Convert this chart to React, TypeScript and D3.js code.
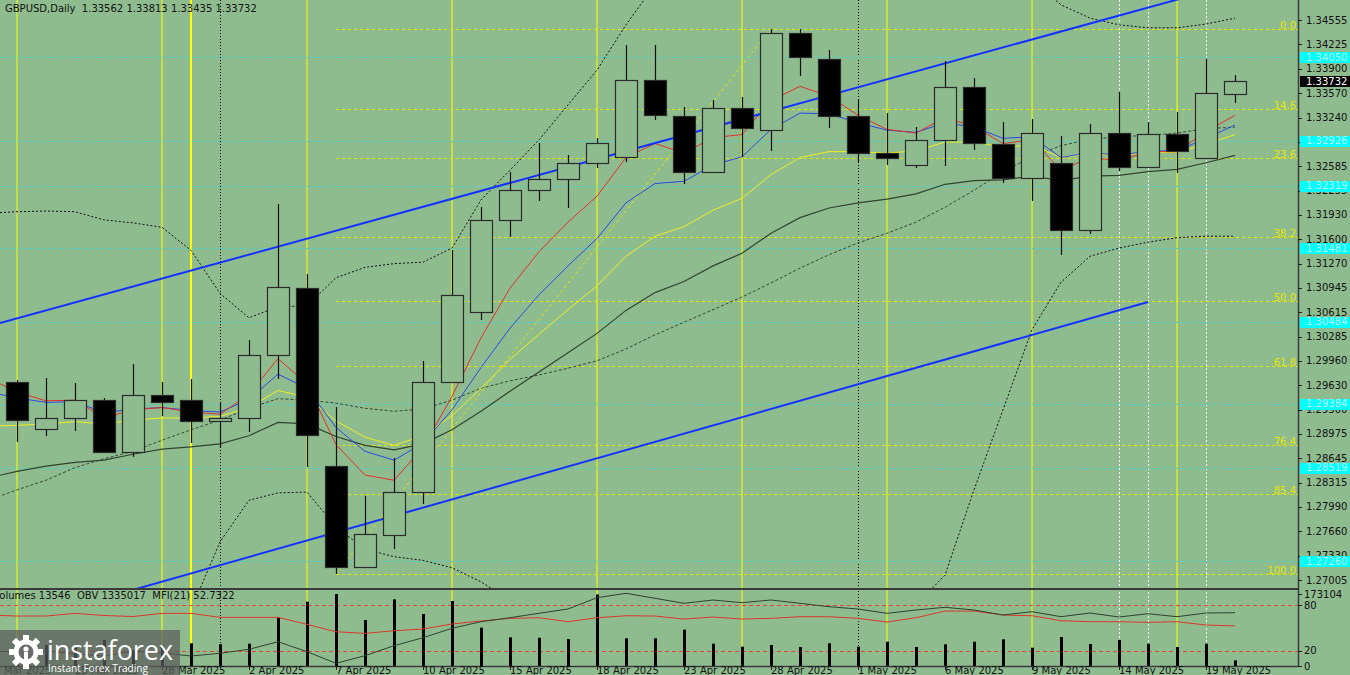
import React from 'react';
import * as d3 from 'd3';

// ---------- DATA ----------
const dates = [
  '2025-03-20','2025-03-21','2025-03-24','2025-03-25','2025-03-26','2025-03-27','2025-03-28','2025-03-31',
  '2025-04-01','2025-04-02','2025-04-03','2025-04-04','2025-04-07','2025-04-08','2025-04-09','2025-04-10',
  '2025-04-11','2025-04-14','2025-04-15','2025-04-16','2025-04-17','2025-04-18','2025-04-21','2025-04-22',
  '2025-04-23','2025-04-24','2025-04-25','2025-04-28','2025-04-29','2025-04-30','2025-05-01','2025-05-02',
  '2025-05-05','2025-05-06','2025-05-07','2025-05-08','2025-05-09','2025-05-12','2025-05-13','2025-05-14',
  '2025-05-15','2025-05-16','2025-05-19','2025-05-20'
];
const candleDates = dates.slice(1);

const opens = [1.29674,1.29041,1.29189,1.29432,1.28731,1.29499,1.29432,1.29149,1.29189,1.30039,1.30942,1.28542,1.27180,1.27612,1.28191,1.29674,1.30618,1.31859,1.32263,1.32411,1.32627,1.32708,1.33746,1.33261,1.32506,1.33369,1.33072,1.34380,1.34029,1.33261,1.32762,1.32600,1.32937,1.33652,1.32883,1.32425,1.32627,1.31724,1.33032,1.32573,1.33018,1.32694,1.33562];
const highs = [1.29701,1.29728,1.29661,1.29459,1.29917,1.29674,1.29715,1.29391,1.30241,1.32074,1.31131,1.29337,1.28138,1.28650,1.29958,1.31454,1.32034,1.32506,1.32897,1.32735,1.32964,1.34218,1.34218,1.33382,1.33476,1.33517,1.34434,1.34434,1.34151,1.33490,1.33301,1.33112,1.34002,1.33773,1.33180,1.33220,1.32991,1.33153,1.33584,1.33180,1.33315,1.34029,1.33813];
const lows = [1.28866,1.28946,1.29014,1.28717,1.28663,1.29216,1.28852,1.28785,1.29000,1.29715,1.28529,1.27086,1.27170,1.27423,1.28030,1.29661,1.30510,1.31629,1.32115,1.32020,1.32560,1.32641,1.33207,1.32344,1.32492,1.32708,1.32789,1.33800,1.33099,1.32641,1.32600,1.32560,1.32587,1.32802,1.32357,1.32115,1.31387,1.31670,1.32519,1.32560,1.32492,1.32680,1.33435];
const closes = [1.29162,1.29189,1.29432,1.28731,1.29499,1.29405,1.29149,1.29189,1.30039,1.30955,1.28960,1.27180,1.27625,1.28191,1.29674,1.30847,1.31859,1.32263,1.32411,1.32627,1.32897,1.33746,1.33274,1.32506,1.33369,1.33099,1.34380,1.34056,1.33261,1.32762,1.32694,1.32937,1.33652,1.32897,1.32425,1.33032,1.31724,1.33032,1.32573,1.33018,1.32789,1.33571,1.33732];

// moving averages (aligned with dates)
const maRed = [1.2973,1.2954,1.2942,1.2943,1.2919,1.2930,1.2933,1.2927,1.2924,1.2951,1.2999,1.2965,1.2883,1.2842,1.2835,1.2879,1.2948,1.3027,1.3094,1.3143,1.3183,1.3218,1.3270,1.3289,1.3276,1.3297,1.3301,1.3347,1.3366,1.3353,1.3327,1.3308,1.3303,1.3324,1.3312,1.3289,1.3294,1.3253,1.3270,1.3266,1.3278,1.3278,1.3305,1.3327];
const maBlue = [1.2954,1.2946,1.2940,1.2941,1.2926,1.2931,1.2933,1.2929,1.2927,1.2944,1.2978,1.2959,1.2906,1.2874,1.2862,1.2885,1.2930,1.2987,1.3040,1.3085,1.3124,1.3161,1.3209,1.3235,1.3238,1.3260,1.3271,1.3308,1.3330,1.3329,1.3317,1.3307,1.3304,1.3317,1.3311,1.3296,1.3298,1.3270,1.3277,1.3273,1.3279,1.3279,1.3296,1.3314];
const maYellow = [1.2908,1.2909,1.2911,1.2914,1.2911,1.2916,1.2919,1.2919,1.2921,1.2933,1.2956,1.2947,1.2915,1.2893,1.2882,1.2895,1.2922,1.2959,1.2998,1.3032,1.3065,1.3097,1.3137,1.3164,1.3177,1.3199,1.3215,1.3247,1.3270,1.3278,1.3278,1.3276,1.3279,1.3291,1.3291,1.3284,1.3287,1.3270,1.3275,1.3273,1.3277,1.3277,1.3288,1.3301];
const maDark = [1.2838,1.2847,1.2854,1.2859,1.2862,1.2870,1.2877,1.2880,1.2884,1.2895,1.2913,1.2911,1.2894,1.2882,1.2876,1.2884,1.2903,1.2928,1.2955,1.2981,1.3007,1.3033,1.3064,1.3088,1.3103,1.3124,1.3141,1.3168,1.3189,1.3202,1.3209,1.3214,1.3221,1.3234,1.3239,1.3240,1.3245,1.3239,1.3245,1.3246,1.3251,1.3254,1.3263,1.3273];
const bbMid = [1.2808,1.2822,1.2835,1.2852,1.2864,1.2874,1.2889,1.2903,1.2916,1.2932,1.2945,1.2943,1.2939,1.2932,1.2928,1.2931,1.2943,1.2959,1.2969,1.2977,1.2986,1.2996,1.3012,1.3031,1.3048,1.3065,1.3082,1.3101,1.3121,1.3139,1.3155,1.3168,1.3183,1.3203,1.3226,1.3251,1.3271,1.3286,1.3295,1.3298,1.3300,1.3303,1.3309,1.3311];
const bbUpper = [1.3195,1.3197,1.3198,1.3197,1.3186,1.3182,1.3176,1.3145,1.3087,1.3054,1.3069,1.3070,1.3108,1.3122,1.3127,1.3129,1.3148,1.3213,1.3253,1.3294,1.3341,1.3388,1.3449,1.3503,1.3536,1.3563,1.3590,1.3631,1.3658,1.3671,1.3678,1.3671,1.3658,1.3631,1.3590,1.3550,1.3509,1.3476,1.3458,1.3449,1.3445,1.3445,1.3450,1.3458];
const bbLower = [1.2431,1.2451,1.2478,1.2512,1.2539,1.2566,1.2606,1.2660,1.2752,1.2808,1.2818,1.2819,1.2772,1.2742,1.2732,1.2727,1.2717,1.2698,1.2674,1.2647,1.2620,1.2593,1.2566,1.2552,1.2545,1.2545,1.2552,1.2559,1.2572,1.2593,1.2613,1.2640,1.2667,1.2707,1.2822,1.2930,1.3038,1.3102,1.3137,1.3148,1.3156,1.3162,1.3164,1.3164];

// indicator window
const volumes = [50500,50500,43300,62500,38500,50500,54600,52200,53600,117100,154600,173104,110600,160300,125000,156300,92100,69000,68000,64900,172000,66600,66600,87300,53600,46400,50500,45700,54600,46400,58400,45700,52200,58400,64200,44000,69700,52900,62500,53600,45700,53600,13546];
const obv = [760500,745500,760500,715500,685500,760500,730500,685500,726000,786000,900000,750000,576000,690000,840000,960000,1101000,1200000,1260000,1326000,1390500,1560000,1626000,1551000,1476000,1525500,1485000,1525500,1476000,1425000,1390500,1326000,1375500,1416000,1375500,1300500,1350000,1275000,1330500,1270500,1320000,1275000,1330500,1335017];
const mfi = [66.9,65.6,65.6,69.1,66.3,65.0,69.1,69.1,63.9,63.9,63.9,54.8,45.1,43.0,46.4,48.7,55.2,59.1,62.6,63.4,58.2,63.4,66.0,65.6,61.7,64.3,61.7,62.6,64.7,64.7,62.6,57.8,63.4,72.1,72.1,66.9,66.0,59.5,58.2,58.2,57.4,58.2,53.9,52.73];

// horizontal levels and labels
const cyanLevels = [1.34050,1.32926,1.32319,1.31481,1.30484,1.29384,1.28519,1.27260];
const fibLevels = [0,14.6,23.6,38.2,50,61.8,76.4,85.4,100];
const fibHigh = 1.34434;
const fibLow = 1.27086;
const fibStart = '2025-04-07';
const fibEnd = '2025-04-28';
const priceTicks = [1.34555,1.34225,1.339,1.3357,1.3324,1.3291,1.32585,1.32255,1.3193,1.316,1.3127,1.30945,1.30615,1.30285,1.2996,1.2963,1.293,1.28975,1.28645,1.28315,1.2799,1.2766,1.2733,1.27005];
const lastPrice = 1.33732;
const panelTicks = [{ v: 173104, t: '173104', k: 'vol' }, { v: 80, t: '80', k: 'mfi' }, { v: 20, t: '20', k: 'mfi' }, { v: 0, t: '0', k: 'mfi' }];
const mfiLevels = [80, 20];

// channel (two anchor points each)
const channelUpper = [{ d: '2025-03-20', p: 1.30425 }, { d: '2025-05-15', p: 1.34722 }];
const channelLower = [{ d: '2025-04-07', p: 1.27648 }, { d: '2025-05-15', p: 1.30753 }];

// vertical markers
const yellowLines = ['2025-03-21','2025-03-28','2025-04-04','2025-04-11','2025-04-18','2025-04-25','2025-05-02','2025-05-09','2025-05-16'];
const yellowThick = ['2025-03-31'];
const blackDotted = ['2025-04-01','2025-05-01'];
const whiteDotted = ['2025-05-14','2025-05-15','2025-05-19'];

const dateLabels = [
  { d: '2025-03-20', t: '20 Mar 2025' }, { d: '2025-03-25', t: '25 Mar 2025' }, { d: '2025-03-28', t: '28 Mar 2025' },
  { d: '2025-04-02', t: '2 Apr 2025' }, { d: '2025-04-07', t: '7 Apr 2025' }, { d: '2025-04-10', t: '10 Apr 2025' },
  { d: '2025-04-15', t: '15 Apr 2025' }, { d: '2025-04-18', t: '18 Apr 2025' }, { d: '2025-04-23', t: '23 Apr 2025' },
  { d: '2025-04-28', t: '28 Apr 2025' }, { d: '2025-05-01', t: '1 May 2025' }, { d: '2025-05-06', t: '6 May 2025' },
  { d: '2025-05-09', t: '9 May 2025' }, { d: '2025-05-14', t: '14 May 2025' }, { d: '2025-05-19', t: '19 May 2025' }
];

const titleText = 'GBPUSD,Daily  1.33562 1.33813 1.33435 1.33732';
const panelText = 'Volumes 13546  OBV 1335017  MFI(21) 52.7322';

// ---------- CHART ----------
const W = 1350, H = 675;
const PR = 1298;          // right edge of plot
const MAIN_B = 588;       // bottom of main window
const P_T = 590, P_B = 666;
const BG = '#8fbc8f';
const FONT = 'DejaVu Sans';

export default function App() {
  const x = d3.scalePoint<string>().domain(dates).range([-12, 1235]);
  const y = d3.scaleLinear().domain([1.27005, 1.34555]).range([580, 20]);
  const yVol = d3.scaleLinear().domain([0, 173104]).range([P_B, 594]);
  const yObv = d3.scaleLinear().domain([535517, 1675517]).range([P_B, P_T]);
  const yMfi = d3.scaleLinear().domain([0, 100]).range([666.33, 589.67]);

  const mk = (vals: number[], ys: (v: number) => number) =>
    d3.line<number>().x((_, i) => x(dates[i]) as number).y(v => ys(v))(vals) || '';

  const trend = (pts: { d: string; p: number }[], x0: number, x1: number) => {
    const xa = x(pts[0].d) as number, ya = y(pts[0].p);
    const xb = x(pts[1].d) as number, yb = y(pts[1].p);
    const m = (yb - ya) / (xb - xa);
    return { x1: x0, y1: ya + m * (x0 - xa), x2: x1, y2: ya + m * (x1 - xa) };
  };
  const up = trend(channelUpper, 0, PR);
  const lo = trend(channelLower, 0, x(channelLower[1].d) as number);

  const fibPrice = (l: number) => fibHigh - (fibHigh - fibLow) * l / 100;
  const fx0 = x(fibStart) as number;

  const half = 11;

  return (
    <svg width={W} height={H} style={{ position: 'fixed', left: 0, top: 0, display: 'block' }}
      fontFamily={FONT}>
      <defs>
        <clipPath id="mainClip"><rect x={0} y={0} width={PR} height={MAIN_B} /></clipPath>
        <clipPath id="panelClip"><rect x={0} y={P_T} width={PR} height={P_B - P_T} /></clipPath>
      </defs>
      <rect x={0} y={0} width={W} height={H} fill={BG} />

      {/* vertical markers */}
      <g>
        {yellowLines.map(d => (
          <line key={'y' + d} x1={x(d)} x2={x(d)} y1={0} y2={P_B} stroke="#ffff00" strokeWidth={1} />
        ))}
        {yellowThick.map(d => (
          <line key={'yt' + d} x1={x(d)} x2={x(d)} y1={0} y2={P_B} stroke="#ffff00" strokeWidth={2} />
        ))}
        {blackDotted.map(d => (
          <line key={'b' + d} x1={(x(d) as number) + 0.5} x2={(x(d) as number) + 0.5} y1={0} y2={P_B} stroke="#000" strokeWidth={1} strokeDasharray="1,2" />
        ))}
        {whiteDotted.map(d => (
          <line key={'w' + d} x1={(x(d) as number) + 0.5} x2={(x(d) as number) + 0.5} y1={0} y2={P_B} stroke="#fff" strokeWidth={1} strokeDasharray="2,2" />
        ))}
      </g>

      <g clipPath="url(#mainClip)">
        {/* cyan levels */}
        {cyanLevels.map(p => (
          <line key={'c' + p} x1={0} x2={PR} y1={Math.round(y(p)) + 0.5} y2={Math.round(y(p)) + 0.5}
            stroke="#46d2d2" strokeWidth={1} strokeDasharray="3,3" />
        ))}
        {/* fib levels */}
        {fibLevels.map(l => (
          <line key={'f' + l} x1={fx0} x2={PR} y1={Math.round(y(fibPrice(l))) + 0.5} y2={Math.round(y(fibPrice(l))) + 0.5}
            stroke="#e6e600" strokeWidth={1} strokeDasharray="3,3" />
        ))}
        <line x1={fx0} y1={y(fibLow)} x2={x(fibEnd)} y2={y(fibHigh)} stroke="#e6e600" strokeWidth={1} strokeDasharray="3,3" />

        {/* bands and averages */}
        <path d={mk(bbUpper, y)} fill="none" stroke="#111" strokeWidth={1} strokeDasharray="2,2" />
        <path d={mk(bbLower, y)} fill="none" stroke="#111" strokeWidth={1} strokeDasharray="2,2" />
        <path d={mk(bbMid, y)} fill="none" stroke="#344a34" strokeWidth={1} strokeDasharray="3,2" />
        <path d={mk(maDark, y)} fill="none" stroke="#2f452f" strokeWidth={1.2} />
        <path d={mk(maYellow, y)} fill="none" stroke="#eeee22" strokeWidth={1} />
        <path d={mk(maBlue, y)} fill="none" stroke="#2a4ae6" strokeWidth={1} />
        <path d={mk(maRed, y)} fill="none" stroke="#e2302a" strokeWidth={1} />

        {/* channel */}
        <line {...up} stroke="#1432ff" strokeWidth={2} />
        <line {...lo} stroke="#1432ff" strokeWidth={2} />

        {/* candles */}
        {candleDates.map((d, i) => {
          const cx = Math.round(x(d) as number);
          const o = opens[i], c = closes[i];
          const top = Math.round(y(Math.max(o, c)));
          const bot = Math.round(y(Math.min(o, c)));
          const bull = c >= o;
          return (
            <g key={d}>
              <line x1={cx + 0.5} x2={cx + 0.5} y1={y(highs[i])} y2={y(lows[i])} stroke="#111" strokeWidth={1.2} />
              <rect x={cx - half + 0.5} y={top + 0.5} width={half * 2} height={Math.max(bot - top, 1)}
                fill={bull ? BG : '#000'} stroke="#2b2b2b" strokeWidth={1.2} />
            </g>
          );
        })}

        {/* fib labels */}
        {fibLevels.map(l => (
          <text key={'fl' + l} x={1296} y={Math.round(y(fibPrice(l)))} textAnchor="end" fontSize={10} fill="#e6e600">
            {l.toFixed(1)}
          </text>
        ))}
      </g>

      {/* indicator panel */}
      <g clipPath="url(#panelClip)">
        {mfiLevels.map(v => (
          <line key={'m' + v} x1={0} x2={PR} y1={Math.round(yMfi(v)) + 0.5} y2={Math.round(yMfi(v)) + 0.5}
            stroke="#e04a3a" strokeWidth={1} strokeDasharray="4,3" />
        ))}
        {candleDates.map((d, i) => (
          <line key={'v' + d} x1={(x(d) as number) + 0.5} x2={(x(d) as number) + 0.5} y1={P_B} y2={yVol(volumes[i])}
            stroke="#000" strokeWidth={3} />
        ))}
        <path d={mk(mfi, yMfi)} fill="none" stroke="#d8382c" strokeWidth={1} />
        <path d={mk(obv, yObv)} fill="none" stroke="#2f432f" strokeWidth={1} />
      </g>

      {/* frames */}
      <line x1={0} x2={PR} y1={589} y2={589} stroke="#3a3a3a" strokeWidth={2} />
      <line x1={0} x2={PR} y1={P_B + 0.5} y2={P_B + 0.5} stroke="#3a3a3a" strokeWidth={1.5} />
      <line x1={PR + 0.5} x2={PR + 0.5} y1={0} y2={P_B + 1} stroke="#3a3a3a" strokeWidth={1.5} />

      {/* price axis */}
      {priceTicks.map(p => (
        <g key={'t' + p}>
          <line x1={PR} x2={PR + 4} y1={Math.round(y(p)) + 0.5} y2={Math.round(y(p)) + 0.5} stroke="#222" />
          <text x={1306} y={y(p) + 3.5} fontSize={10} fill="#111">{p.toFixed(5)}</text>
        </g>
      ))}
      {cyanLevels.map(p => (
        <g key={'cb' + p}>
          <rect x={1300} y={Math.round(y(p)) - 5} width={50} height={11} fill="#00ffff" />
          <text x={1306} y={y(p) + 3.5} fontSize={10} fill="#b8f4f4">{p.toFixed(5)}</text>
        </g>
      ))}
      <rect x={1300} y={Math.round(y(lastPrice)) - 5} width={50} height={11} fill="#000" />
      <text x={1306} y={y(lastPrice) + 3.5} fontSize={10} fill="#fff">{lastPrice.toFixed(5)}</text>

      {/* panel axis */}
      {panelTicks.map(t => {
        const yy = t.k === 'vol' ? yVol(t.v) : yMfi(t.v);
        return (
          <g key={'pt' + t.t}>
            <line x1={PR} x2={PR + 4} y1={Math.round(yy) + 0.5} y2={Math.round(yy) + 0.5} stroke="#222" />
            <text x={1304} y={yy + 3.5} fontSize={10} fill="#111">{t.t}</text>
          </g>
        );
      })}

      {/* titles */}
      <text x={5} y={12} fontSize={10} fill="#111" style={{ whiteSpace: 'pre' }}>{titleText}</text>
      <text x={-6.8} y={598.5} fontSize={10} fill="#111" style={{ whiteSpace: 'pre' }}>{panelText}</text>

      {/* date axis */}
      {dateLabels.map(l => (
        <g key={'dl' + l.d}>
          <line x1={(x(l.d) as number) + 0.5} x2={(x(l.d) as number) + 0.5} y1={P_B} y2={P_B + 4} stroke="#222" />
          <text x={x(l.d)} y={674} fontSize={10} fill="#111">{l.t}</text>
        </g>
      ))}

      {/* watermark */}
      <g>
        <rect x={0} y={630} width={180} height={45} fill="#5c5c5c" opacity={0.72} />
        <g transform="translate(26,652)" fill="#fff">
          {d3.range(8).map(k => (
            <rect key={k} x={-3} y={-17} width={6} height={7} transform={`rotate(${k * 45})`} />
          ))}
          <circle r={12.5} />
          <circle r={7.5} fill="#6a6a6a" />
          <circle cx={0} cy={-3} r={2.6} />
          <rect x={-2} y={0} width={4} height={8} />
        </g>
        <text x={47} y={660} fontSize={27} fill="#fff" fontFamily="Open Sans" textLength={126} lengthAdjust="spacingAndGlyphs">instaforex</text>
        <text x={48} y={672} fontSize={11.5} fill="#fff" fontFamily="Open Sans" textLength={100} lengthAdjust="spacingAndGlyphs">Instant Forex Trading</text>
      </g>
    </svg>
  );
}
